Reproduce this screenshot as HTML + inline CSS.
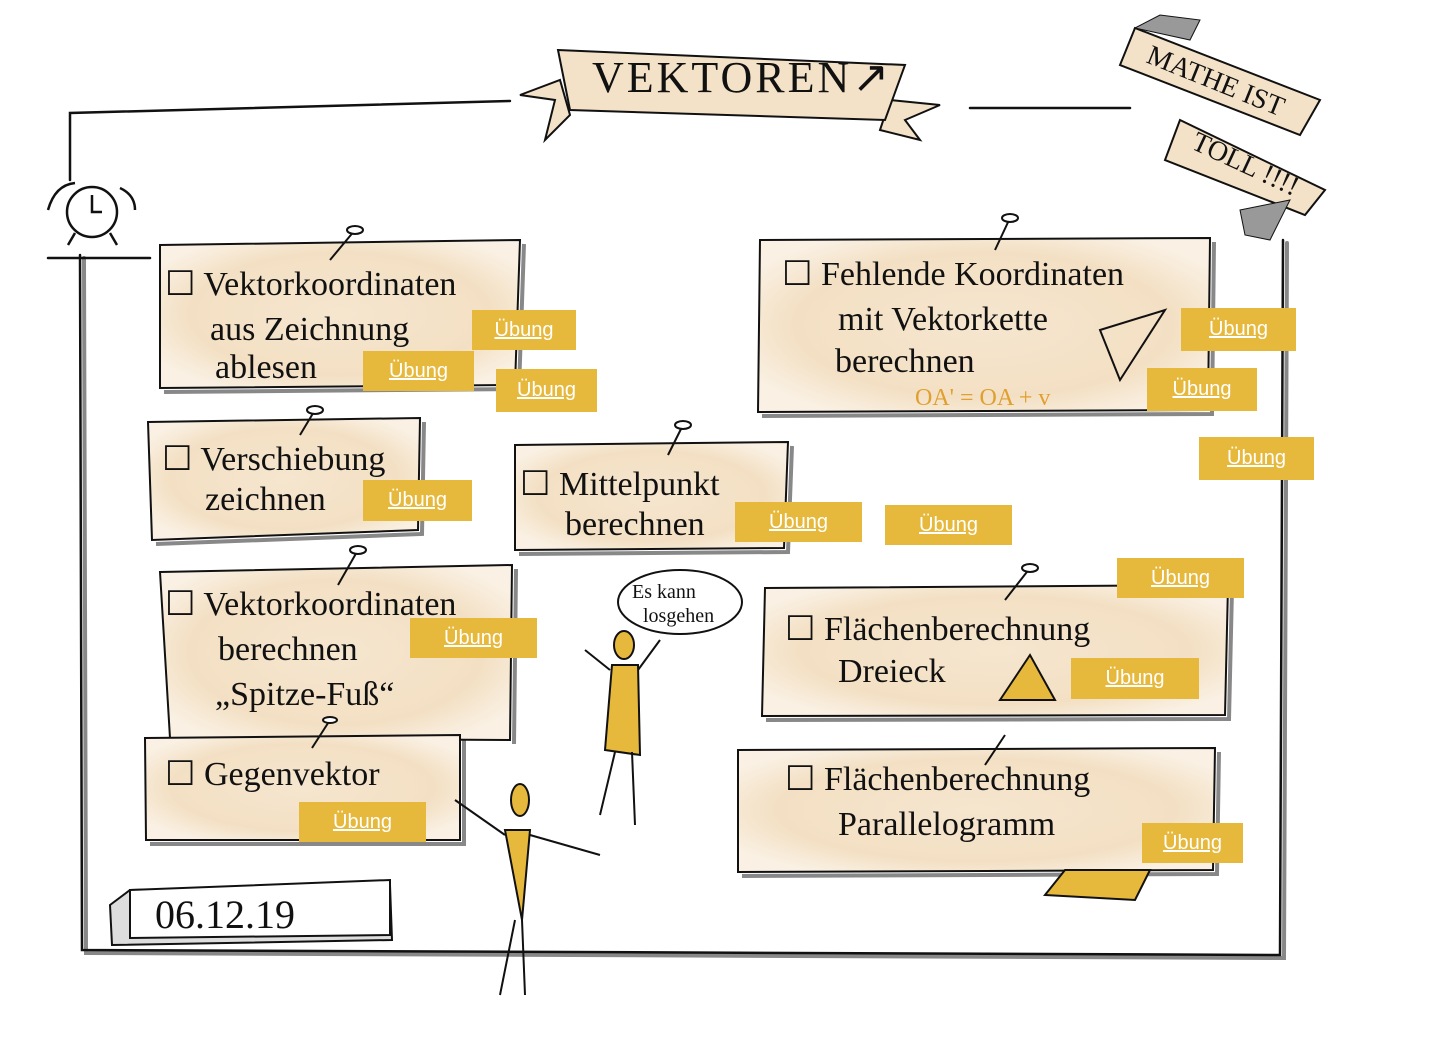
<!DOCTYPE html>
<html><head><meta charset="utf-8">
<style>
html,body{margin:0;padding:0;background:#fff;}
body{width:1440px;height:1048px;position:relative;overflow:hidden;font-family:"Liberation Sans",sans-serif;}
.b{position:absolute;background:#e6b83c;color:#fff;font-size:20px;text-decoration:underline;display:flex;align-items:center;justify-content:center;}
svg{position:absolute;left:0;top:0;}
.h{font-family:"Liberation Serif",serif;fill:#111;}
</style></head><body>
<svg width="1440" height="1048" viewBox="0 0 1440 1048">
<defs>
<radialGradient id="g" cx="50%" cy="50%" r="60%"><stop offset="0" stop-color="#f6e6cf"/><stop offset="0.7" stop-color="#f3e0c4"/><stop offset="1" stop-color="#faf1e4"/></radialGradient>
</defs>
<g stroke="#111" stroke-width="2.5" fill="none" stroke-linecap="round">
<path d="M70 180 L70 113 L510 101"/>
<path d="M970 108 L1130 108"/>
<path d="M84 258 L86 953 L1284 958 L1287 243" stroke="#888" stroke-width="4"/>
<path d="M80 255 L82 950 L1280 955 L1283 240"/>
<path d="M48 258 L150 258"/>
</g>
<!-- card shadows -->
<g fill="none" stroke="#888" stroke-width="4">
<path d="M524 244 L519 389 L164 392"/>
<path d="M424 422 L422 534 L156 544"/>
<path d="M792 446 L788 552 L519 554"/>
<path d="M516 569 L514 744"/>
<path d="M464 739 L464 844 L150 844"/>
<path d="M1214 242 L1212 414 L762 416"/>
<path d="M1232 589 L1229 719 L766 720"/>
<path d="M1219 752 L1217 874 L742 876"/>
</g>
<g fill="url(#g)" stroke="#111" stroke-width="2">
<path d="M160 245 L520 240 L515 385 L160 388 Z"/>
<path d="M148 422 L420 418 L418 530 L152 540 Z"/>
<path d="M515 445 L788 442 L784 548 L515 550 Z"/>
<path d="M160 572 L512 565 L510 740 L170 738 Z"/>
<path d="M145 738 L460 735 L460 840 L146 840 Z"/>
<path d="M760 240 L1210 238 L1208 410 L758 412 Z"/>
<path d="M765 588 L1228 585 L1225 715 L762 716 Z"/>
<path d="M738 750 L1215 748 L1213 870 L738 872 Z"/>
</g>
<g stroke="#111" stroke-width="2" fill="#fff">
<path d="M330 260 L355 230"/><ellipse cx="355" cy="230" rx="8" ry="4"/>
<path d="M300 435 L315 410"/><ellipse cx="315" cy="410" rx="8" ry="4"/>
<path d="M668 455 L683 425"/><ellipse cx="683" cy="425" rx="8" ry="4"/>
<path d="M338 585 L358 550"/><ellipse cx="358" cy="550" rx="8" ry="4"/>
<path d="M312 748 L330 720"/><ellipse cx="330" cy="720" rx="7" ry="3"/>
<path d="M995 250 L1010 218"/><ellipse cx="1010" cy="218" rx="8" ry="4"/>
<path d="M1005 600 L1030 568"/><ellipse cx="1030" cy="568" rx="8" ry="4"/>
<path d="M985 765 L1005 735"/>
</g>
<g stroke="#111" stroke-width="2" fill="#f3e2c8">
<path d="M520 95 L560 80 L570 115 L545 140 L555 100 Z"/>
<path d="M890 100 L940 105 L905 120 L920 140 L880 130 Z"/>
<path d="M558 50 L905 65 L885 120 L570 110 Z"/>
<path d="M1135 28 L1320 100 L1300 135 L1120 65 Z"/>
<path d="M1180 120 L1325 190 L1305 215 L1165 160 Z"/>
</g>
<path d="M1135 28 L1160 15 L1200 20 L1190 40 Z" fill="#999" stroke="#111"/>
<path d="M1240 210 L1290 200 L1270 240 L1245 235 Z" fill="#999" stroke="#111"/>
<text x="592" y="92" font-size="44" class="h" letter-spacing="3" font-family="Liberation Sans">VEKTOREN↗</text>
<text x="1145" y="62" font-size="28" class="h" transform="rotate(22 1145 62)">MATHE IST</text>
<text x="1190" y="148" font-size="28" class="h" transform="rotate(25 1190 148)">TOLL !!!!</text>
<g stroke="#111" stroke-width="2.5" fill="none">
<circle cx="92" cy="212" r="25" fill="#fff"/>
<path d="M92 195 L92 212 L102 212"/>
<path d="M48 210 Q55 185 75 183 M120 188 Q135 195 135 210"/>
<path d="M75 233 L68 245 M110 233 L117 245"/>
</g>
<g class="h" font-size="34">
<text x="165" y="295">☐ Vektorkoordinaten</text>
<text x="210" y="340">aus Zeichnung</text>
<text x="215" y="378">ablesen</text>
<text x="162" y="470">☐ Verschiebung</text>
<text x="205" y="510">zeichnen</text>
<text x="520" y="495">☐ Mittelpunkt</text>
<text x="565" y="535">berechnen</text>
<text x="165" y="615">☐ Vektorkoordinaten</text>
<text x="218" y="660">berechnen</text>
<text x="215" y="705">„Spitze-Fuß“</text>
<text x="165" y="785">☐ Gegenvektor</text>
<text x="782" y="285">☐ Fehlende Koordinaten</text>
<text x="838" y="330">mit Vektorkette</text>
<text x="835" y="372">berechnen</text>
<text x="785" y="640">☐ Flächenberechnung</text>
<text x="838" y="682">Dreieck</text>
<text x="785" y="790">☐ Flächenberechnung</text>
<text x="838" y="835">Parallelogramm</text>
</g>
<text x="915" y="405" font-size="24" fill="#e0a030" font-family="Liberation Serif">OA' = OA + v</text>
<path d="M1000 700 L1030 655 L1055 700 Z" fill="#e6b83c" stroke="#111" stroke-width="2"/>
<path d="M1100 330 L1165 310 L1120 380 Z" fill="none" stroke="#111" stroke-width="2"/>
<path d="M1045 895 L1065 870 L1150 870 L1135 900 Z" fill="#e6b83c" stroke="#111" stroke-width="2"/>
<path d="M110 905 L130 890 L390 885 L392 940 L112 945 Z" fill="#ddd" stroke="#111" stroke-width="2"/>
<path d="M130 890 L390 880 L390 935 L130 938 Z" fill="#fff" stroke="#111" stroke-width="2"/>
<text x="155" y="928" font-size="40" class="h" font-family="Liberation Sans">06.12.19</text>
<g stroke="#111" stroke-width="2" fill="none">
<ellipse cx="680" cy="602" rx="62" ry="32" fill="#fff"/>
<ellipse cx="624" cy="645" rx="10" ry="14" fill="#e6b83c"/>
<path d="M612 665 L638 665 L640 755 L605 750 Z" fill="#e6b83c"/>
<path d="M610 670 L585 650 M638 670 L660 640 M615 752 L600 815 M632 752 L635 825"/>
<ellipse cx="520" cy="800" rx="9" ry="16" fill="#e6b83c"/>
<path d="M505 830 L530 830 L522 920 Z" fill="#e6b83c"/>
<path d="M505 835 L455 800 M530 835 L600 855 M515 920 L500 995 M522 920 L525 995"/>
</g>
<text x="632" y="598" font-size="20" class="h">Es kann</text>
<text x="643" y="622" font-size="20" class="h">losgehen</text>
</svg>
<div class="b" style="left:472px;top:310px;width:104px;height:40px">Übung</div>
<div class="b" style="left:363px;top:351px;width:111px;height:40px">Übung</div>
<div class="b" style="left:496px;top:369px;width:101px;height:43px">Übung</div>
<div class="b" style="left:1181px;top:308px;width:115px;height:43px">Übung</div>
<div class="b" style="left:1147px;top:368px;width:110px;height:43px">Übung</div>
<div class="b" style="left:1199px;top:437px;width:115px;height:43px">Übung</div>
<div class="b" style="left:363px;top:480px;width:109px;height:41px">Übung</div>
<div class="b" style="left:735px;top:502px;width:127px;height:40px">Übung</div>
<div class="b" style="left:885px;top:505px;width:127px;height:40px">Übung</div>
<div class="b" style="left:1117px;top:558px;width:127px;height:40px">Übung</div>
<div class="b" style="left:410px;top:618px;width:127px;height:40px">Übung</div>
<div class="b" style="left:1071px;top:658px;width:128px;height:41px">Übung</div>
<div class="b" style="left:299px;top:802px;width:127px;height:40px">Übung</div>
<div class="b" style="left:1142px;top:823px;width:101px;height:40px">Übung</div>
</body></html>
